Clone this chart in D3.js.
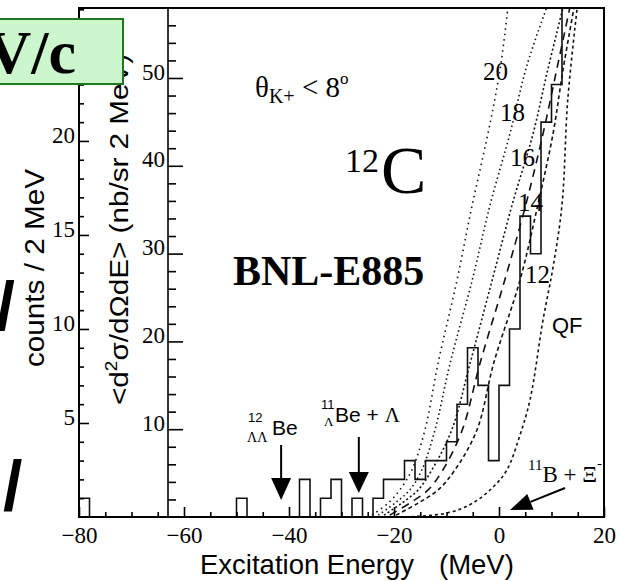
<!DOCTYPE html>
<html><head><meta charset="utf-8">
<script src="https://cdn.jsdelivr.net/npm/d3@7"></script>
<style>body{margin:0;background:#fff}svg{display:block}</style>
</head><body>
<svg id="c" width="619" height="581"></svg>
<script>
// ---- data ----
const binWidth = 2;
const binStarts = d3.range(-80, 14, 2);
const binCounts = [1,0,0,0,0,0,0,0,0,0,0,0,0,0,0,
                   1,0,0,0,0,0,
                   2,0,1,2,0,1,0,1,2,2,3,2,3,3,4,6,9,7,3,7,10,16,14,21,23,30];
const curveLabels = ["20","18","16","14","12","QF"];
const curve20 = [[-24.2,0.1],[-21.1,0.74],[-18.9,1.44],[-16.6,2.5],[-14.1,4.63],[-11.6,8.19],[-8.0,12.6],[-5.1,16.6],[-2.1,20.4],[0.2,23.8],[1.7,27.1]];
const curve18 = [[-23.0,0.1],[-19.8,0.74],[-17.0,1.44],[-14.7,2.5],[-12.2,4.63],[-9.3,8.19],[-5.1,12.6],[-1.7,16.6],[2.1,20.4],[5.3,24.0],[9.1,27.1]];
const curve16 = [[-21.9,0.1],[-18.5,0.74],[-15.4,1.44],[-12.8,2.5],[-9.0,4.63],[-5.5,8.19],[-1.3,12.6],[2.5,16.6],[6.5,20.4],[9.3,23.8],[12.2,27.1]];
const curve14 = [[-20.8,0.1],[-17.0,0.74],[-13.5,1.44],[-10.7,2.5],[-7.0,4.63],[-3.6,8.19],[1.1,12.6],[5.1,16.6],[8.4,20.4],[11.0,23.8],[13.5,27.1]];
const curve12 = [[-19.6,0.1],[-15.4,0.74],[-11.6,1.44],[-8.4,2.5],[-4.2,4.63],[-1.0,8.19],[4.0,12.6],[7.4,16.6],[10.3,20.4],[12.2,23.8],[14.3,27.1]];
const curveQF = [[-17.9,0],[-9.9,0.21],[-5.0,0.74],[-1.1,1.6],[1.5,2.5],[4.0,4.36],[5.9,6.22],[8.4,10.5],[10.3,13.3],[12.0,16.6],[13.1,22.2],[14.9,27.1]];
const xTicksMajor = [-80,-60,-40,-20,0,20];
const countTicks = [5,10,15,20];
const xsecTicks = [10,20,30,40,50];

// ---- layout ----
const svg = d3.select("#c");
const L = 79, R = 604, T = 8, B = 517;
const x = d3.scaleLinear().domain([-80,20]).range([L,R]);
const yC = d3.scaleLinear().domain([0,27.07]).range([B,T]);
const yS = d3.scaleLinear().domain([0,57.97]).range([B,T]);
const serif = "'Liberation Serif','Times New Roman',serif";
const sans = "'Liberation Sans',Arial,Helvetica,sans-serif";

svg.append("defs").append("clipPath").attr("id","clip")
  .append("rect").attr("x",L).attr("y",T).attr("width",R-L).attr("height",B-T);

// y-axis label (nb/sr) drawn first (behind box)
const lab2 = svg.append("text").attr("transform","translate(128,405) rotate(-90) scale(1.12,1)")
  .attr("font-family",sans).attr("font-size",26.5).attr("fill","#000");
lab2.append("tspan").text("<d");
lab2.append("tspan").attr("font-size",17).attr("dy",-11).text("2");
lab2.append("tspan").attr("dy",11).text("σ/dΩdE> (nb/sr 2 MeV)");

// counts label
svg.append("text").attr("transform","translate(44,268) rotate(-90) scale(1.1,1)")
  .attr("text-anchor","middle").attr("font-family",sans).attr("font-size",27)
  .text("counts / 2 MeV");

// curves
const line = d3.line().x(d=>x(d[0])).y(d=>yC(d[1])).curve(d3.curveCatmullRom.alpha(0.5));
const curves = [
  {d:curve20, dash:"1.5,4"},
  {d:curve18, dash:"1.5,3"},
  {d:curve16, dash:"2,2.5"},
  {d:curve14, dash:"8,6"},
  {d:curve12, dash:"4,3"},
  {d:curveQF, dash:"3,3"}
];
const gc = svg.append("g").attr("clip-path","url(#clip)");
curves.forEach(c=>{
  gc.append("path").attr("d",line(c.d)).attr("fill","none")
    .attr("stroke","#111").attr("stroke-width",1.6).attr("stroke-dasharray",c.dash);
});

// histogram (last bin runs off the top of the frame)
const hpts = [[-80,0]];
binStarts.forEach((s,i)=>{ hpts.push([s,binCounts[i]]); hpts.push([s+binWidth,binCounts[i]]); });
hpts.pop();
gc.append("path").attr("d",d3.line().x(d=>x(d[0])).y(d=>yC(d[1]))(hpts))
  .attr("fill","none").attr("stroke","#111").attr("stroke-width",1.6);

// frame
svg.append("rect").attr("x",L).attr("y",T).attr("width",R-L).attr("height",B-T)
  .attr("fill","none").attr("stroke","#000").attr("stroke-width",2);

// x axis
const styleAxis = g=>{ g.select(".domain").remove(); g.selectAll("line").attr("stroke","#000").attr("stroke-width",1.6);
  g.selectAll("text").attr("font-family",serif).attr("font-size",23).attr("fill","#000"); };
svg.append("g").attr("transform",`translate(0,${B})`)
  .call(d3.axisBottom(x).tickValues(d3.range(-75,20,5).filter(v=>v%20!==0)).tickSize(-5).tickFormat(""))
  .call(styleAxis);
svg.append("g").attr("transform",`translate(0,${B})`)
  .call(d3.axisBottom(x).tickValues(xTicksMajor).tickSize(-10).tickPadding(10))
  .call(styleAxis);

// counts axis
svg.append("g").attr("transform",`translate(${L},0)`)
  .call(d3.axisLeft(yC).tickValues(d3.range(1,28,1).filter(v=>v%5!==0)).tickSize(-5).tickFormat(""))
  .call(styleAxis);
svg.append("g").attr("transform",`translate(${L},0)`)
  .call(d3.axisLeft(yC).tickValues(countTicks).tickSize(-10).tickPadding(4))
  .call(styleAxis).selectAll("text").attr("dy","0.05em");

// cross-section axis
const XS = 168;
svg.append("line").attr("x1",XS).attr("x2",XS).attr("y1",T).attr("y2",B).attr("stroke","#000").attr("stroke-width",1.6);
svg.append("g").attr("transform",`translate(${XS},0)`)
  .call(d3.axisLeft(yS).tickValues(d3.range(2,58,2).filter(v=>v%10!==0)).tickSize(-8).tickFormat(""))
  .call(styleAxis);
svg.append("g").attr("transform",`translate(${XS},0)`)
  .call(d3.axisLeft(yS).tickValues(xsecTicks).tickSize(-15).tickPadding(3))
  .call(styleAxis).selectAll("text").attr("dy","0.05em");

// x label
svg.append("text").attr("x",200).attr("y",574).attr("font-family",sans).attr("font-size",27.5).text("Excitation Energy");
svg.append("text").attr("x",439).attr("y",574).attr("font-family",sans).attr("font-size",27.5).text("(MeV)");

// annotations
const th = svg.append("text").attr("x",255).attr("y",97).attr("font-family",serif).attr("font-size",29);
th.append("tspan").text("θ");
th.append("tspan").attr("font-size",20).attr("dy",6).text("K+");
th.append("tspan").attr("dy",-6).text(" < 8");
th.append("tspan").attr("font-size",17).attr("dy",-13).text("o");

svg.append("text").attr("x",345).attr("y",172).attr("font-family",serif).attr("font-size",34).text("12");
svg.append("text").attr("x",381).attr("y",193).attr("font-family",serif).attr("font-size",68).text("C");

svg.append("text").attr("x",233).attr("y",285).attr("font-family",serif).attr("font-weight","bold")
  .attr("font-size",42).text("BNL-E885");

// curve labels
const lblPos = [[483,80],[500,121],[510,166],[518,211],[525,283],[552,333]];
curveLabels.forEach((t,i)=>{
  svg.append("text").attr("x",lblPos[i][0]).attr("y",lblPos[i][1])
    .attr("font-family", t==="QF"?sans:serif).attr("font-size", t==="QF"?22:25).text(t);
});

// arrow labels
const a1 = svg.append("g").attr("font-family",sans);
a1.append("text").attr("x",248).attr("y",422).attr("font-size",13).text("12");
a1.append("text").attr("x",247).attr("y",442).attr("font-size",14).attr("font-family",serif).text("ΛΛ");
a1.append("text").attr("x",272).attr("y",435).attr("font-size",21).text("Be");
a1.append("text").attr("x",321).attr("y",409).attr("font-size",13).text("11");
a1.append("text").attr("x",324).attr("y",426).attr("font-size",13).attr("font-family",serif).text("Λ");
const a2 = a1.append("text").attr("x",335).attr("y",422).attr("font-size",21);
a2.append("tspan").text("Be + ");
a2.append("tspan").attr("font-family",serif).text("Λ");
const a3 = svg.append("text").attr("x",528).attr("y",482).attr("font-family",serif).attr("font-size",23);
a3.append("tspan").attr("font-size",15).attr("dy",-12).text("11");
a3.append("tspan").attr("dy",12).text("B + Ξ");
a3.append("tspan").attr("font-size",15).attr("dy",-14).text("-");

function arrow(x1,y1,x2,y2,hl,hw){
  const ang = Math.atan2(y2-y1,x2-x1);
  const bx = x2 - hl*Math.cos(ang), by = y2 - hl*Math.sin(ang);
  svg.append("line").attr("x1",x1).attr("y1",y1).attr("x2",bx).attr("y2",by).attr("stroke","#000").attr("stroke-width",2);
  const px = -Math.sin(ang)*hw/2, py = Math.cos(ang)*hw/2;
  svg.append("path").attr("d",`M${x2},${y2}L${bx+px},${by+py}L${bx-px},${by-py}Z`).attr("fill","#000");
}
arrow(x(-41.5),445,x(-41.5),500,22,20);
arrow(x(-26.7),437,x(-26.7),493,21,20);
arrow(565,488,x(2.1),510,22,17);

// slide residue: green box and slashes
svg.append("rect").attr("x",-3).attr("y",19).attr("width",126).attr("height",65)
  .attr("fill","#ccf7cc").attr("stroke","#1f7a1f").attr("stroke-width",2);
svg.append("text").attr("x",76).attr("y",73).attr("text-anchor","end").attr("font-family",serif)
  .attr("font-weight","bold").attr("font-size",62).text("V/c");
svg.append("text").attr("x",-4).attr("y",330).attr("font-family",sans).attr("font-weight","bold").attr("font-size",68).text("/");
svg.append("text").attr("x",3).attr("y",510).attr("font-family",sans).attr("font-weight","bold").attr("font-size",70).text("/");
</script>
</body></html>
